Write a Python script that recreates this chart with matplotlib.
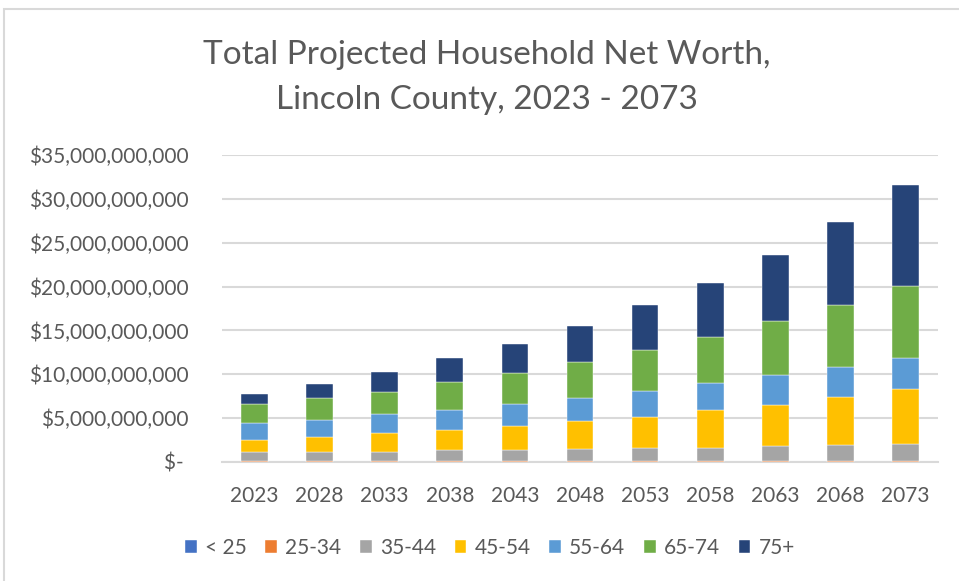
import numpy as np
import matplotlib
matplotlib.use("Agg")
import matplotlib.pyplot as plt
from matplotlib.patches import Rectangle
from matplotlib.ticker import FuncFormatter

# projected household net worth by age of householder, billions of dollars
years = ["2023", "2028", "2033", "2038", "2043", "2048", "2053", "2058", "2063", "2068", "2073"]
age_groups = ["< 25", "25-34", "35-44", "45-54", "55-64", "65-74", "75+"]
under_25 = [0.01, 0.01, 0.01, 0.01, 0.01, 0.01, 0.01, 0.01, 0.01, 0.01, 0.01]
age_25_34 = [0.08, 0.08, 0.09, 0.09, 0.10, 0.10, 0.11, 0.11, 0.11, 0.12, 0.12]
age_35_44 = [1.06, 1.07, 1.07, 1.22, 1.22, 1.37, 1.51, 1.51, 1.67, 1.77, 1.96]
age_45_54 = [1.37, 1.68, 2.14, 2.28, 2.74, 3.19, 3.50, 4.30, 4.71, 5.51, 6.23]
age_55_64 = [1.98, 1.98, 2.13, 2.28, 2.58, 2.59, 2.93, 3.04, 3.38, 3.39, 3.50]
age_65_74 = [2.13, 2.43, 2.58, 3.20, 3.50, 4.11, 4.67, 5.28, 6.20, 7.10, 8.21]
age_75_up = [1.10, 1.67, 2.28, 2.73, 3.34, 4.10, 5.14, 6.19, 7.56, 9.43, 11.55]

colors = ["#4472C4", "#ED7D31", "#A5A5A5", "#FFC000", "#5B9BD5", "#70AD47", "#264478"]
text_color = "#595959"
grid_color = "#D9D9D9"

plt.rcParams["font.family"] = ["Lato", "DejaVu Sans"]

fig = plt.figure(figsize=(9.59, 5.81), dpi=100)
W, H = 959, 581
ax = fig.add_axes([222 / W, 1 - 462 / H, 716 / W, 307 / H])

series = [under_25, age_25_34, age_35_44, age_45_54, age_55_64, age_65_74, age_75_up]
x = np.arange(len(years))
bottom = np.zeros(len(years))
for label, vals, col in zip(age_groups, series, colors):
    v = np.array(vals) * 1e9
    ax.bar(x, v, width=0.41, bottom=bottom, color=col, label=label,
           edgecolor="white", linewidth=0.3, zorder=3)
    bottom += v

ax.set_xlim(-0.5, len(years) - 0.5)
ax.set_ylim(0, 35e9)
ax.set_yticks(np.arange(0, 35e9 + 1, 5e9))


def money(v, pos):
    if v == 0:
        return "$- "
    return f"${v:,.0f}"


ax.yaxis.set_major_formatter(FuncFormatter(money))
ax.set_xticks(x)
ax.set_xticklabels(years)
ax.tick_params(axis="y", length=0, pad=24, labelsize=15, labelcolor=text_color)
ax.tick_params(axis="x", length=0, pad=17, labelsize=15, labelcolor=text_color)
ax.grid(axis="y", color=grid_color, linewidth=1.5, zorder=0)
for s in ["top", "right", "left"]:
    ax.spines[s].set_visible(False)
ax.spines["bottom"].set_color(grid_color)
ax.spines["bottom"].set_linewidth(1.5)

fig.text(487 / W, 1 - 55 / H, "Total Projected Household Net Worth,", ha="center", va="center",
         fontsize=24, color=text_color)
fig.text(487 / W, 1 - 100 / H, "Lincoln County, 2023 - 2073", ha="center", va="center",
         fontsize=24, color=text_color)

fig.legend(loc="center", bbox_to_anchor=(490 / W, 1 - 548 / H), ncol=7, frameon=False,
           fontsize=15, labelcolor=text_color, handlelength=0.55, handleheight=0.55,
           handletextpad=0.4, columnspacing=0.9)

# chart area border
fig.patches.append(Rectangle((4 / W, 1 - 590 / H), 970 / W, 581 / H, transform=fig.transFigure,
                             fill=False, edgecolor=grid_color, linewidth=1.5))

fig.savefig("out.png", dpi=100, facecolor="white")
